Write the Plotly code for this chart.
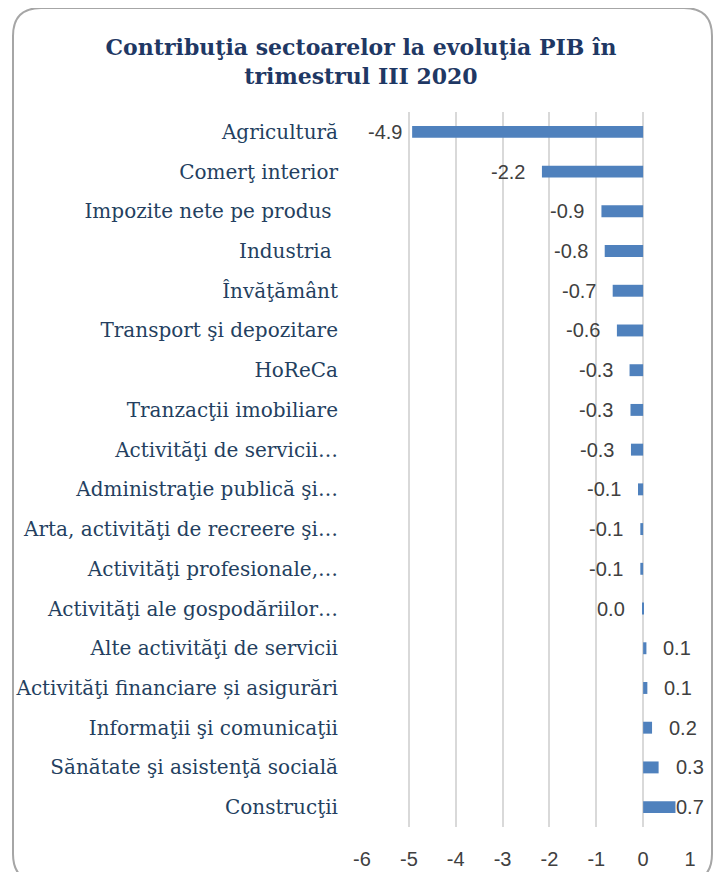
import plotly.graph_objects as go

categories = [
    "Agricultură",
    "Comerţ interior",
    "Impozite nete pe produs\u00a0",
    "Industria\u00a0",
    "Învăţământ",
    "Transport şi depozitare",
    "HoReCa",
    "Tranzacţii imobiliare",
    "Activităţi de servicii…",
    "Administraţie publică şi…",
    "Arta, activităţi de recreere şi…",
    "Activităţi profesionale,…",
    "Activităţi ale gospodăriilor…",
    "Alte activităţi de servicii",
    "Activităţi financiare și asigurări",
    "Informaţii şi comunicaţii",
    "Sănătate şi asistenţă socială",
    "Construcţii",
]
values = [-4.93, -2.16, -0.89, -0.82, -0.65, -0.56, -0.29, -0.27, -0.26,
          -0.11, -0.06, -0.06, -0.02, 0.07, 0.09, 0.19, 0.33, 0.69]
tick_vals = [-6, -5, -4, -3, -2, -1, 0, 1]
tick_text = ["-6", "-5", "-4", "-3", "-2", "-1", "0", "1"]
title_text = "Contribuţia sectoarelor la evoluţia PIB în<br>trimestrul III 2020"


def fmt(v):
    s = f"{v:.1f}"
    return "0.0" if s == "-0.0" else s


labels = [fmt(v) for v in values]

# page has an 8px body margin; figure sized to fit the 722x880 window
W, H = 706, 864
ML, MR, MT, MB = 354, 24, 104, 45

fig = go.Figure(go.Bar(
    x=values, y=categories, orientation="h",
    marker=dict(color="#4F81BD", line=dict(width=0)),
    width=0.3, hoverinfo="x+y",
))

# data labels placed outside bar ends (Excel-like), kept inside the chart area
label_font = dict(family="Liberation Sans", size=20, color="#404040")
shift_override = {"Agricultură": -8, "Construcţii": -1}
annotations = []
for cat, v, lab in zip(categories, values, labels):
    neg = v < 0 or lab == "0.0"
    sh = shift_override.get(cat, -15 if neg else 15)
    annotations.append(dict(x=v, y=cat, xref="x", yref="y", text=lab,
                            showarrow=False, xanchor="right" if neg else "left",
                            yanchor="middle", xshift=sh, font=label_font))

# rounded outer frame (pixel -> paper coordinates)
pw, ph = W - ML - MR, H - MT - MB
def px(x):
    return (x - ML) / pw
def py(y):
    return (H - MB - y) / ph

x0, x1, y0, y1, r = 5, 704, 0, 874, 28
path = (f"M {px(x0 + r)} {py(y0)} L {px(x1 - r)} {py(y0)} "
        f"Q {px(x1)} {py(y0)} {px(x1)} {py(y0 + r)} "
        f"L {px(x1)} {py(y1 - r)} Q {px(x1)} {py(y1)} {px(x1 - r)} {py(y1)} "
        f"L {px(x0 + r)} {py(y1)} Q {px(x0)} {py(y1)} {px(x0)} {py(y1 - r)} "
        f"L {px(x0)} {py(y0 + r)} Q {px(x0)} {py(y0)} {px(x0 + r)} {py(y0)} Z")

fig.update_layout(
    template="none",
    width=W, height=H,
    margin=dict(l=ML, r=MR, t=MT, b=MB, pad=0),
    paper_bgcolor="white", plot_bgcolor="white",
    showlegend=False,
    title=dict(text=title_text, x=0.5, xref="container", xanchor="center",
               y=1 - 47 / H, yanchor="middle",
               font=dict(family="DejaVu Serif", size=22, color="#1F3864", weight="bold")),
    xaxis=dict(range=[-6, 1], tickvals=tick_vals, ticktext=tick_text,
               showgrid=True, gridcolor="#D9D9D9", gridwidth=1.5,
               zeroline=False, showline=False, automargin=False,
               ticks="outside", ticklen=14, tickcolor="rgba(0,0,0,0)",
               tickfont=dict(family="Liberation Sans", size=20, color="#404040")),
    yaxis=dict(autorange="reversed", showgrid=False, showline=False,
               zeroline=False, automargin=False,
               ticks="outside", ticklen=19, tickcolor="rgba(0,0,0,0)",
               tickfont=dict(family="DejaVu Serif", size=20, color="#243F60")),
    annotations=annotations,
    shapes=[dict(type="path", path=path, xref="paper", yref="paper",
                 line=dict(color="#A6A6A6", width=2), layer="below")],
)

fig.write_html("out.html")
